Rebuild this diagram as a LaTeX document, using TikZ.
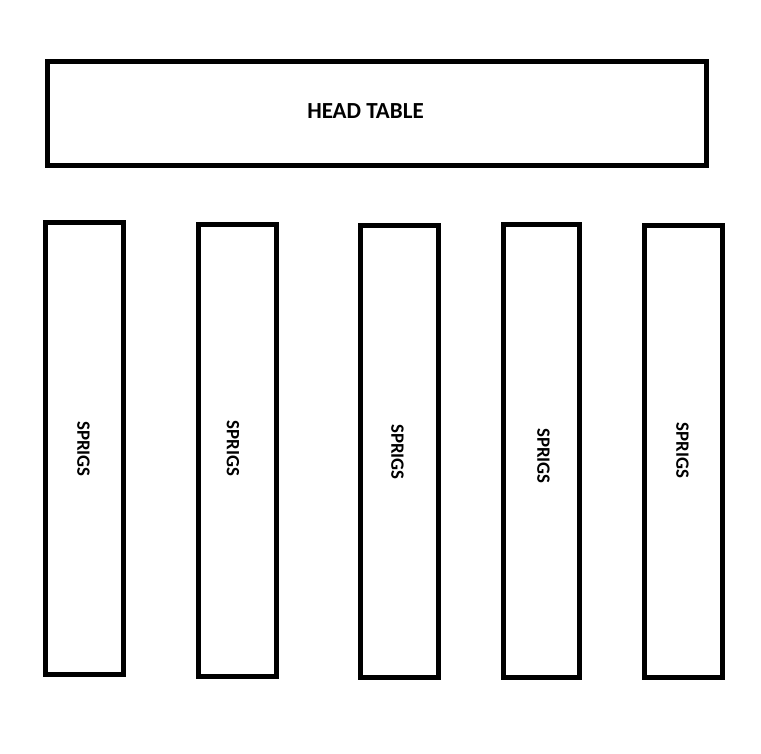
\documentclass[tikz,border=0pt]{standalone}
\usepackage{fontspec}
\setmainfont{Carlito}
\begin{document}
\begin{tikzpicture}[x=1pt,y=-1pt,
  tbl/.style={draw=black,line width=5pt,fill=white},
  lbl/.style={font=\fontsize{23}{27}\selectfont\bfseries,inner sep=0pt},
  slbl/.style={font=\fontsize{18.8}{22}\selectfont\bfseries,inner sep=0pt,rotate=-90}]
\fill[white] (0,0) rectangle (761,754);
\useasboundingbox (0,0) rectangle (761,754);
\draw[tbl] (47.5,61.5) rectangle (706,165.5);
\coordinate (headc) at (365.5,111);
\node[lbl] (head) at (headc) {HEAD TABLE};
\draw[tbl] (45.5,222.5) rectangle (123.5,674.3);
\draw[tbl] (198.5,224.5) rectangle (276,676.5);
\draw[tbl] (360.7,225.2) rectangle (438.3,677.2);
\draw[tbl] (503,225) rectangle (579.8,677.5);
\draw[tbl] (644.7,225.2) rectangle (722.2,677.5);
\node[slbl] (s1) at (83.5,449) {SPRIGS};
\node[slbl] (s2) at (233,448.5) {SPRIGS};
\node[slbl] (s3) at (397.5,452) {SPRIGS};
\node[slbl] (s4) at (543.5,456) {SPRIGS};
\node[slbl] (s5) at (682.5,450.5) {SPRIGS};
\end{tikzpicture}
\end{document}
